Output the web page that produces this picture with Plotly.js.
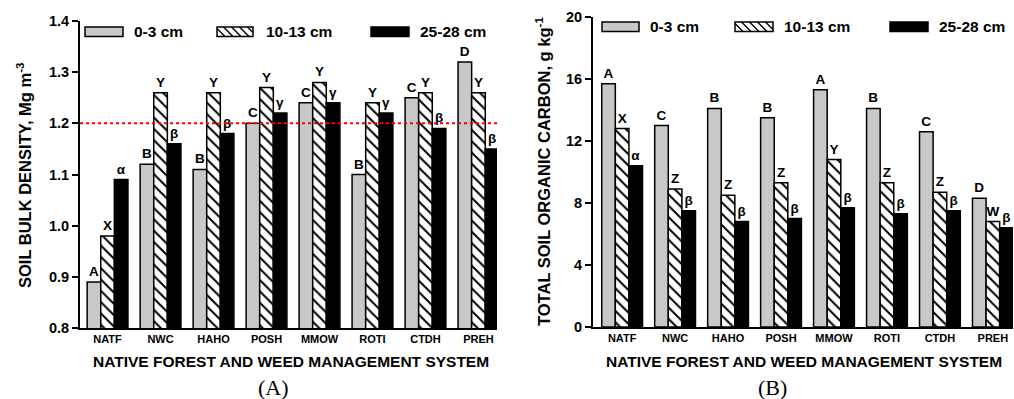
<!DOCTYPE html>
<html><head><meta charset="utf-8">
<script src="https://cdn.plot.ly/plotly-3.0.1.min.js"></script>
<style>html,body{margin:0;padding:0;background:#fff}#chart{width:1014px;height:399px}</style>
</head><body><div id="chart"></div>
<script>
const categories = ['NATF','NWC','HAHO','POSH','MMOW','ROTI','CTDH','PREH'];
const depthLabels = ['0-3 cm','10-13 cm','25-28 cm'];

const bulkDensity_0_3   = [0.89,1.12,1.11,1.20,1.24,1.10,1.25,1.32];
const bulkDensity_10_13 = [0.98,1.26,1.26,1.27,1.28,1.24,1.26,1.26];
const bulkDensity_25_28 = [1.09,1.16,1.18,1.22,1.24,1.22,1.19,1.15];
const bulkLetters_0_3   = ['A','B','B','C','C','B','C','D'];
const bulkLetters_10_13 = ['X','Y','Y','Y','Y','Y','Y','Y'];
const bulkLetters_25_28 = ['α','β','β','γ','γ','γ','β','β'];
const bulkReference = 1.2;
const bulkTicks = [0.8,0.9,1.0,1.1,1.2,1.3,1.4];

const carbon_0_3   = [15.7,13.0,14.1,13.5,15.3,14.1,12.6,8.3];
const carbon_10_13 = [12.8,8.9,8.5,9.3,10.8,9.3,8.7,6.8];
const carbon_25_28 = [10.4,7.5,6.8,7.0,7.7,7.3,7.5,6.4];
const carbonLetters_0_3   = ['A','C','B','B','A','B','C','D'];
const carbonLetters_10_13 = ['X','Z','Z','Z','Y','Z','Z','W'];
const carbonLetters_25_28 = ['α','β','β','β','β','β','β','β'];
const carbonTicks = [0,4,8,12,16,20];

const FONT = 'Liberation Sans, Arial, sans-serif';
const W = 1014, H = 399;
const px = x => x / W;
const py = y => 1 - y / H;

const styles = [
  {color:'#c8c8c8'},
  {color:'#ffffff', pattern:{shape:'\\', fgcolor:'#000', bgcolor:'#fff', size:8, solidity:0.25, fillmode:'replace'}},
  {color:'#000000'}
];

function barTrace(vals, letters, i, xa, ya){
  return {
    type:'bar', x:categories, y:vals, name:depthLabels[i], xaxis:xa, yaxis:ya,
    marker:Object.assign({line:{color:'#000', width:1.5}}, styles[i]),
    text:letters, textposition:'outside', textangle:0, constraintext:'none',
    textfont:{family:FONT, size:13.5, weight:'bold', color:'#000'},
    showlegend:false, hoverinfo:'x+y'
  };
}

const data = [
  barTrace(bulkDensity_0_3, bulkLetters_0_3, 0, 'x', 'y'),
  barTrace(bulkDensity_10_13, bulkLetters_10_13, 1, 'x', 'y'),
  barTrace(bulkDensity_25_28, bulkLetters_25_28, 2, 'x', 'y'),
  barTrace(carbon_0_3, carbonLetters_0_3, 0, 'x2', 'y2'),
  barTrace(carbon_10_13, carbonLetters_10_13, 1, 'x2', 'y2'),
  barTrace(carbon_25_28, carbonLetters_25_28, 2, 'x2', 'y2')
];

const xCommon = {
  type:'category', showline:true, linewidth:2, linecolor:'#000', ticks:'',
  showgrid:false, zeroline:false,
  tickfont:{family:FONT, size:11, weight:'bold', color:'#000'}
};
const yCommon = {
  showline:true, linewidth:2, linecolor:'#000', ticks:'outside', ticklen:6, tickwidth:2,
  tickcolor:'#000', showgrid:false, zeroline:false,
  tickfont:{family:FONT, size:14.5, weight:'bold', color:'#000'}
};

// legend drawn manually
const shapes = [];
const annotations = [];
function legend(y0, y1, items){
  items.forEach((it, i) => {
    const [x0, x1, tx] = it;
    if (i === 1){
      const h = y1 - y0;
      let d = '';
      for (let s = x0 - h; s < x1; s += 8){
        let ax = s, ay = y0, bx = s + h, by = y1;
        if (ax < x0){ ay = y0 + (x0 - ax); ax = x0; }
        if (bx > x1){ by = y0 + (x1 - s); bx = x1; }
        if (ay >= y1 || by <= y0) continue;
        d += `M${px(ax)},${py(ay)}L${px(bx)},${py(by)}`;
      }
      shapes.push({type:'rect', xref:'paper', yref:'paper', x0:px(x0), x1:px(x1), y0:py(y0), y1:py(y1),
        fillcolor:'#fff', line:{color:'#000', width:1.5}});
      shapes.push({type:'path', xref:'paper', yref:'paper', path:d, line:{color:'#000', width:1.4}});
    } else {
      shapes.push({type:'rect', xref:'paper', yref:'paper', x0:px(x0), x1:px(x1), y0:py(y0), y1:py(y1),
        fillcolor: styles[i].color, line:{color:'#000', width:1.5}});
    }
    annotations.push({xref:'paper', yref:'paper', x:px(tx), y:py((y0+y1)/2), xanchor:'left', yanchor:'middle',
      text:depthLabels[i], showarrow:false, font:{family:FONT, size:15.5, weight:'bold', color:'#000'}});
  });
}
legend(27, 36.5, [[85,123,132],[217,253,264],[371,409,418]]);
legend(22, 31.5, [[602,639,648],[735,773,782],[890,928,937]]);

shapes.push({type:'line', xref:'x domain', yref:'y', x0:0, x1:1, y0:bulkReference, y1:bulkReference,
  line:{color:'#ff0000', width:2, dash:'dot'}, layer:'above'});

const titleFont = {family:FONT, size:16.5, weight:'bold', color:'#000'};
const xTitleFont = {family:FONT, size:15.5, weight:'bold', color:'#000'};
annotations.push(
  {xref:'paper', yref:'paper', x:px(24), y:py(176), xanchor:'center', yanchor:'middle', textangle:-90,
   text:'SOIL BULK DENSITY, Mg m<sup>-3</sup>', showarrow:false, font:titleFont},
  {xref:'paper', yref:'paper', x:px(543), y:py(172), xanchor:'center', yanchor:'middle', textangle:-90,
   text:'TOTAL SOIL ORGANIC CARBON, g kg<sup>-1</sup>', showarrow:false, font:titleFont},
  {xref:'paper', yref:'paper', x:px(291), y:py(361), xanchor:'center', yanchor:'middle',
   text:'NATIVE FOREST AND WEED MANAGEMENT SYSTEM', showarrow:false, font:xTitleFont},
  {xref:'paper', yref:'paper', x:px(804), y:py(361), xanchor:'center', yanchor:'middle',
   text:'NATIVE FOREST AND WEED MANAGEMENT SYSTEM', showarrow:false, font:xTitleFont},
  {xref:'paper', yref:'paper', x:px(273), y:py(387), xanchor:'center', yanchor:'middle',
   text:'(A)', showarrow:false, font:{family:'Liberation Serif, Times New Roman, serif', size:22, color:'#000'}},
  {xref:'paper', yref:'paper', x:px(772), y:py(387), xanchor:'center', yanchor:'middle',
   text:'(B)', showarrow:false, font:{family:'Liberation Serif, Times New Roman, serif', size:22, color:'#000'}}
);

const layout = {
  width:W, height:H, margin:{l:0, r:0, t:0, b:0}, paper_bgcolor:'#fff', plot_bgcolor:'#fff',
  barmode:'group', bargap:0.23, bargroupgap:0, showlegend:false,
  xaxis:Object.assign({}, xCommon, {domain:[px(80), px(497)], range:[-0.52, 7.35], anchor:'y'}),
  yaxis:Object.assign({}, yCommon, {domain:[py(328), py(21)], range:[0.8, 1.4], tickvals:bulkTicks, tickformat:'.1f', anchor:'x'}),
  xaxis2:Object.assign({}, xCommon, {domain:[px(593), px(1013)], range:[-0.55, 7.38], anchor:'y2'}),
  yaxis2:Object.assign({}, yCommon, {domain:[py(327), py(17)], range:[0, 20], tickvals:carbonTicks, anchor:'x2'}),
  shapes:shapes, annotations:annotations
};

Plotly.newPlot('chart', data, layout, {displayModeBar:false, staticPlot:true});
</script></body></html>
